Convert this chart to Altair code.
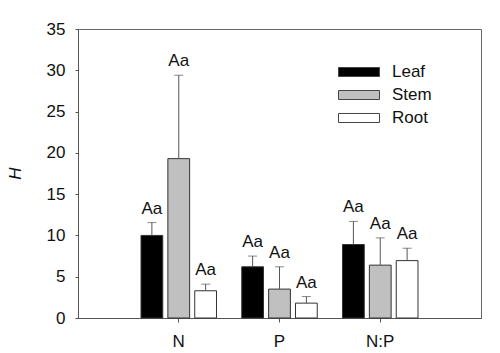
import altair as alt
import pandas as pd

groups = ["N", "P", "N:P"]
organs = ["Leaf", "Stem", "Root"]
means = {
    "N": [10.0, 19.3, 3.3],
    "P": [6.2, 3.5, 1.8],
    "N:P": [8.9, 6.4, 6.95],
}
errors = {
    "N": [1.55, 10.1, 0.8],
    "P": [1.3, 2.7, 0.8],
    "N:P": [2.8, 3.3, 1.5],
}
letters = {
    "N": ["Aa", "Aa", "Aa"],
    "P": ["Aa", "Aa", "Aa"],
    "N:P": ["Aa", "Aa", "Aa"],
}
fills = ["#000000", "#c0c0c0", "#ffffff"]

rows = []
for g in groups:
    for i, o in enumerate(organs):
        m = means[g][i]
        e = errors[g][i]
        rows.append({"group": g, "organ": o, "mean": m, "top": m + e, "label": letters[g][i]})
df = pd.DataFrame(rows)

FONT = "Liberation Sans"

x_enc = alt.X(
    "group:N",
    sort=groups,
    scale=alt.Scale(paddingInner=0, paddingOuter=0.5),
    axis=alt.Axis(
        title=None, labelAngle=0, labelFontSize=17, labelColor="#111",
        tickSize=4, tickColor="#555", domainColor="#555", labelPadding=11,
    ),
)
xo_enc = alt.XOffset(
    "organ:N", sort=organs, scale=alt.Scale(paddingInner=0.19, paddingOuter=0.47)
)

base = alt.Chart(df)

bars = base.mark_bar(stroke="#333", strokeWidth=1).encode(
    x=x_enc,
    xOffset=xo_enc,
    y=alt.Y(
        "mean:Q",
        scale=alt.Scale(domain=[0, 35], nice=False),
        axis=alt.Axis(
            title="H", titleFontStyle="italic", titleFontSize=17, titleFontWeight="normal",
            titleColor="#111", titleX=-63, titleY=144, titleBaseline="middle",
            values=list(range(0, 36, 5)), labelFontSize=17, labelColor="#111",
            tickSize=3, tickColor="#555", domainColor="#555", labelPadding=10, grid=False,
        ),
    ),
    color=alt.Color(
        "organ:N",
        sort=organs,
        scale=alt.Scale(domain=organs, range=fills),
        legend=alt.Legend(
            title=None, orient="none", legendX=270, legendY=32,
            symbolType="M-2,-0.44H2V0.44H-2Z", symbolSize=420,
            symbolStrokeColor="#444", symbolStrokeWidth=1, symbolOpacity=1,
            labelFontSize=17, labelColor="#111", labelOffset=22, rowPadding=4,
        ),
    ),
)

err = base.mark_rule(color="#555", strokeWidth=1).encode(
    x=alt.X("group:N", sort=groups),
    xOffset=alt.XOffset("organ:N", sort=organs),
    y="mean:Q",
    y2="top:Q",
)

caps = base.mark_tick(color="#555", orient="horizontal", size=9, thickness=1).encode(
    x=alt.X("group:N", sort=groups),
    xOffset=alt.XOffset("organ:N", sort=organs),
    y="top:Q",
)

text = base.mark_text(baseline="bottom", dy=-5, fontSize=17, color="#111").encode(
    x=alt.X("group:N", sort=groups),
    xOffset=alt.XOffset("organ:N", sort=organs),
    y="top:Q",
    text="label:N",
)

chart = (
    alt.layer(bars, err, caps, text)
    .properties(
        width=403,
        height=289,
        autosize=alt.AutoSizeParams(type="none"),
        padding={"left": 78, "top": 29, "right": 19, "bottom": 35},
        background="white",
    )
    .configure(font=FONT)
    .configure_view(stroke="#666", strokeWidth=1)
)

chart.save("out.html", embed_options={"renderer": "svg", "actions": False})
